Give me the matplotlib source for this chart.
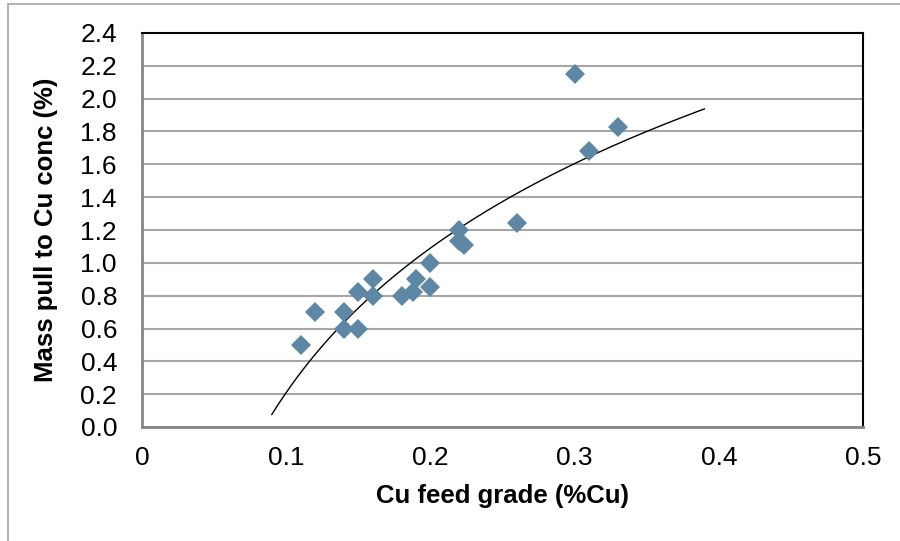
import numpy as np
import matplotlib
matplotlib.use("Agg")
import matplotlib.pyplot as plt
from matplotlib.patches import Rectangle

plt.rcParams['font.family'] = ['Liberation Sans', 'DejaVu Sans']

# data
feed_grade = [0.11, 0.12, 0.14, 0.14, 0.15, 0.15, 0.16, 0.16, 0.18, 0.188,
              0.19, 0.20, 0.20, 0.22, 0.22, 0.223, 0.26, 0.30, 0.31, 0.33]
mass_pull = [0.50, 0.70, 0.70, 0.60, 0.60, 0.82, 0.90, 0.80, 0.80, 0.82,
             0.90, 0.85, 1.00, 1.20, 1.13, 1.11, 1.24, 2.15, 1.68, 1.83]

x_ticks = [0, 0.1, 0.2, 0.3, 0.4, 0.5]
x_labels = ['0', '0.1', '0.2', '0.3', '0.4', '0.5']
y_ticks = [0.0, 0.2, 0.4, 0.6, 0.8, 1.0, 1.2, 1.4, 1.6, 1.8, 2.0, 2.2, 2.4]
trend_range = (0.09, 0.39)

fig = plt.figure(figsize=(9, 5.41), dpi=100)
ax = fig.add_axes([142/900, 1 - 427/541, 721/900, 394/541])

# outer chart border (Excel style)
fig.patches.append(Rectangle((8/900, -0.1), 1.2, 1 - 4/541 + 0.1, transform=fig.transFigure,
                             fill=False, edgecolor='#a6a6a6', linewidth=1.2))

# logarithmic trendline fitted to the data
a, b = np.polyfit(np.log(feed_grade), mass_pull, 1)
xt = np.linspace(trend_range[0], trend_range[1], 200)
ax.plot(xt, a*np.log(xt) + b, color='black', linewidth=1.0, zorder=3)

ax.plot(feed_grade, mass_pull, linestyle='none', marker='D', markersize=10.5,
        color='#5e87a5', markeredgewidth=0, zorder=4)

ax.set_xlim(0, 0.5)
ax.set_ylim(0, 2.4)
ax.set_xticks(x_ticks)
ax.set_xticklabels(x_labels)
ax.set_yticks(y_ticks)
ax.set_yticklabels(['%.1f' % v for v in y_ticks])
ax.tick_params(length=0, labelsize=19)
ax.tick_params(axis='y', pad=18)
ax.tick_params(axis='x', pad=14)

ax.grid(axis='y', color='#a6a6a6', linewidth=1.5)
ax.set_axisbelow(True)

for s in ['top', 'right']:
    ax.spines[s].set_color('black')
    ax.spines[s].set_linewidth(1.5)
for s in ['left', 'bottom']:
    ax.spines[s].set_color('#868686')
    ax.spines[s].set_linewidth(2)

ax.set_xlabel('Cu feed grade (%Cu)', fontsize=18.5, fontweight='bold', labelpad=10)
ax.set_ylabel('Mass pull to Cu conc (%)', fontsize=18.5, fontweight='bold', labelpad=16)

fig.savefig('out.png', dpi=100)
